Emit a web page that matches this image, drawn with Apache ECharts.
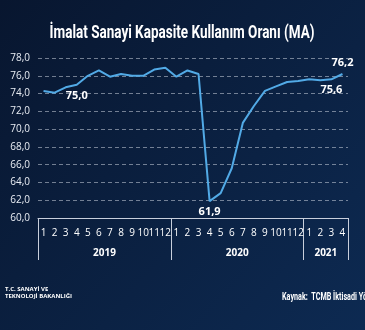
<!DOCTYPE html>
<html><head><meta charset="utf-8">
<script src="https://cdn.jsdelivr.net/npm/echarts@6/dist/echarts.min.js"></script>
<style>html,body{margin:0;padding:0;background:#0b1c3b}#c{width:365px;height:330px}</style>
</head><body><div id="c"></div>
<script>
const months = ['1','2','3','4','5','6','7','8','9','10','11','12','1','2','3','4','5','6','7','8','9','10','11','12','1','2','3','4'];
const values = [74.3,74.1,74.7,75.0,76.0,76.6,75.9,76.2,76.0,76.0,76.7,76.9,
                75.9,76.6,76.2,61.9,62.8,65.6,70.7,72.6,74.3,74.8,75.3,75.4,
                75.6,75.5,75.6,76.2];
const years = ['2019','2020','2021'];
const yearCenters = [6,18,26];
const yearBounds = [0,12,24,28];
const labelled = {3:'bottom',15:'bottom',26:'bottom',27:'top'};
const yTicks = {min:60,max:78,interval:2};
const titleText = 'İmalat Sanayi Kapasite Kullanım Oranı (MA)';

const chart = echarts.init(document.getElementById('c'));
chart.setOption({
  backgroundColor: new echarts.graphic.LinearGradient(0,0,1,1,[{offset:0,color:'#08162f'},{offset:1,color:'#0d2a52'}]),
  animation:false,
  grid:{left:38,right:17,top:58,bottom:112},
  xAxis:[{
    type:'category',data:months,boundaryGap:true,
    axisLine:{show:true,lineStyle:{color:'#c8cfdc',width:1}},
    axisTick:{show:false},
    axisLabel:{color:'#ffffff',fontSize:10,fontWeight:500,margin:10,interval:0,fontFamily:"'Open Sans',sans-serif"}
  },{
    type:'value',min:0,max:28,position:'bottom',
    axisLine:{show:false},splitLine:{show:false},
    axisTick:{show:true,customValues:yearBounds,length:42,lineStyle:{color:'#c8cfdc',width:1}},
    axisLabel:{show:true,customValues:yearCenters,margin:30,color:'#ffffff',fontSize:10,fontWeight:'bold',fontFamily:"'Open Sans',sans-serif",
      formatter:(v)=>years[yearCenters.indexOf(v)]}
  }],
  yAxis:{type:'value',min:yTicks.min,max:yTicks.max,interval:yTicks.interval,
    axisLine:{show:false},axisTick:{show:false},
    axisLabel:{color:'#e8ecf3',fontSize:10,margin:8,fontFamily:"'Open Sans',sans-serif",formatter:(v)=>v.toFixed(1).replace('.',',')},
    splitLine:{show:true,lineStyle:{color:'rgba(220,225,235,0.5)',type:[4,3],width:1}}
  },
  series:[{
    type:'line',
    data:values.map((v,i)=>labelled[i]?{value:v,label:{show:true,position:labelled[i]}}:v),
    symbol:'circle',symbolSize:1,showSymbol:true,
    itemStyle:{color:'rgba(0,0,0,0)',borderWidth:0},
    lineStyle:{color:'#52aae6',width:2},
    label:{show:false,color:'#ffffff',fontSize:11,fontWeight:'bold',fontFamily:"'Open Sans',sans-serif",distance:5,
      formatter:(p)=>p.value.toFixed(1).replace('.',',')}
  }],
  graphic:[
    {type:'text',x:182,y:33,scaleX:0.75,style:{text:titleText,align:'center',verticalAlign:'middle',fill:'#ffffff',font:"bold 18px Roboto,sans-serif"}},
    {type:'text',left:5,top:286,style:{text:'T.C. SANAYİ VE\nTEKNOLOJİ BAKANLIĞI',fill:'#ffffff',font:"bold 6px 'Open Sans',sans-serif",lineHeight:7}},
    {type:'text',x:282,y:297,scaleX:0.72,style:{text:'Kaynak:  TCMB İktisadi Yönelim',verticalAlign:'middle',fill:'#ffffff',font:"bold 10px Roboto,sans-serif"}}
  ]
});
</script></body></html>
